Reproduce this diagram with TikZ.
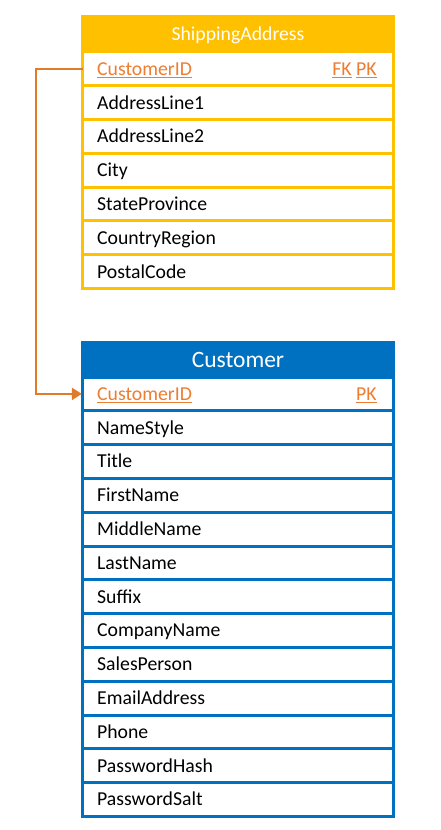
\documentclass[tikz,border=0pt]{standalone}
\usepackage{fontspec}
\setmainfont{Carlito}
\usepackage{tikz}
\usetikzlibrary{arrows.meta}
\definecolor{saYellow}{HTML}{FFC000}
\definecolor{cuBlue}{HTML}{0070C0}
\definecolor{keyOrange}{HTML}{ED7D31}
\definecolor{fkOrange}{HTML}{E07B2A}

\begin{document}
\begin{tikzpicture}[x=0.75pt,y=-0.75pt,
  cell/.style={draw,line width=2.25pt,fill=white,anchor=north west,inner xsep=11pt,inner ysep=0pt,outer sep=0pt,text width=211.25pt,minimum height=25.35pt,text height=9.5pt,text depth=0pt,align=left,font=\fontsize{14.8}{17}\selectfont},
  cellY/.style={cell,draw=saYellow},
  cellB/.style={cell,draw=cuBlue},
  head/.style={cell,align=center,text=white,minimum height=26.25pt},
  headY/.style={head,draw=saYellow,fill=saYellow},
  headB/.style={head,draw=cuBlue,fill=cuBlue,text height=11.3pt,font=\fontsize{17.6}{20}\selectfont},
  keytxt/.style={text=keyOrange},
  keyflag/.style={anchor=base east,inner sep=0pt,text=keyOrange,font=\fontsize{14.8}{17}\selectfont},
  fk/.style={draw=fkOrange,line width=1.8pt,-{Triangle[length=7.5pt,width=9pt]}}]
\def\dy{33.8}
\def\ya{52}
\def\yb{377}
\def\xa{82.5}

\useasboundingbox (0,0) rectangle (441,830);

% ShippingAddress
\node[headY] (saH) at (\xa,17) {ShippingAddress};
\node[cellY,keytxt] (saK) at (\xa,\ya) {\underline{CustomerID}};
\node[keyflag] (saF) at ([xshift=-12.5pt]saK.base east) {\underline{FK} \underline{PK}};
\node[cellY] (saA1) at (\xa,\ya+1*\dy) {AddressLine1};
\node[cellY] (saA2) at (\xa,\ya+2*\dy) {AddressLine2};
\node[cellY] (saCi) at (\xa,\ya+3*\dy) {City};
\node[cellY] (saSt) at (\xa,\ya+4*\dy) {StateProvince};
\node[cellY] (saCo) at (\xa,\ya+5*\dy) {CountryRegion};
\node[cellY] (saPo) at (\xa,\ya+6*\dy) {PostalCode};

% Customer
\node[headB] (cuH) at (\xa,342) {Customer};
\node[cellB,keytxt] (cuK) at (\xa,\yb) {\underline{CustomerID}};
\node[keyflag] (cuF) at ([xshift=-12.5pt]cuK.base east) {\underline{PK}};
\node[cellB] (cuNS) at (\xa,\yb+1*\dy) {NameStyle};
\node[cellB] (cuTi) at (\xa,\yb+2*\dy) {Title};
\node[cellB] (cuFN) at (\xa,\yb+3*\dy) {FirstName};
\node[cellB] (cuMN) at (\xa,\yb+4*\dy) {MiddleName};
\node[cellB] (cuLN) at (\xa,\yb+5*\dy) {LastName};
\node[cellB] (cuSu) at (\xa,\yb+6*\dy) {Suffix};
\node[cellB] (cuCN) at (\xa,\yb+7*\dy) {CompanyName};
\node[cellB] (cuSP) at (\xa,\yb+8*\dy) {SalesPerson};
\node[cellB] (cuEA) at (\xa,\yb+9*\dy) {EmailAddress};
\node[cellB] (cuPh) at (\xa,\yb+10*\dy) {Phone};
\node[cellB] (cuPH) at (\xa,\yb+11*\dy) {PasswordHash};
\node[cellB] (cuPS) at (\xa,\yb+12*\dy) {PasswordSalt};

% foreign key
\draw[fk] (saK.west) -- ++(-46.5,0) |- ([xshift=-0.5pt]cuK.west);

\end{tikzpicture}
\end{document}
